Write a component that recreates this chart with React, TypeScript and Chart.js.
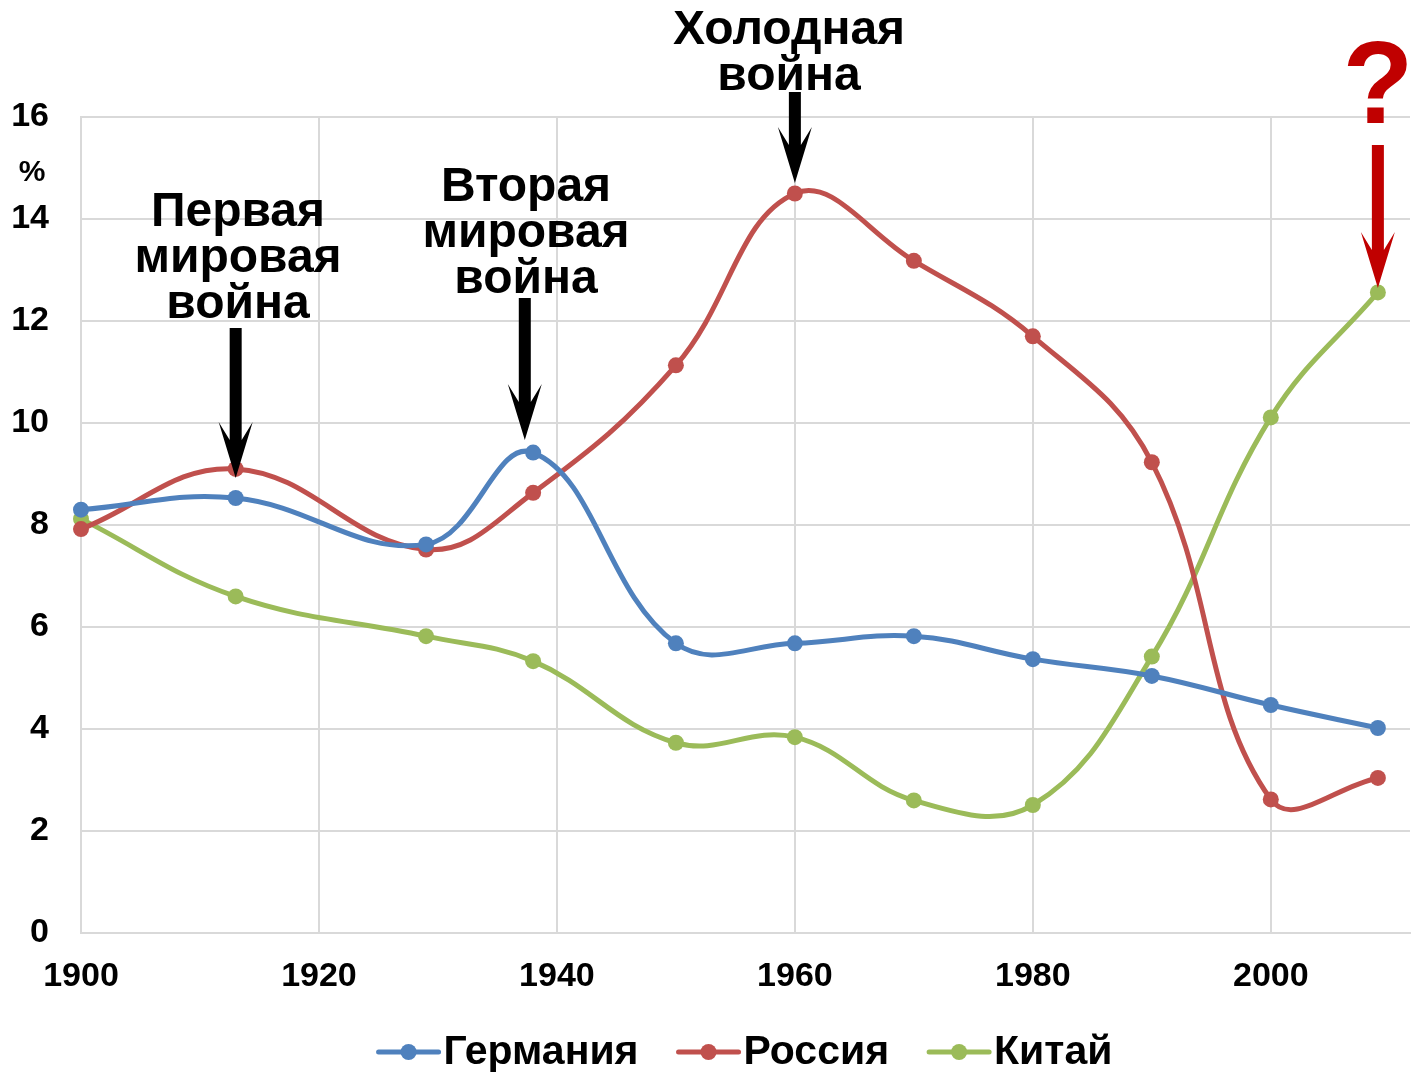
import React, { useEffect, useRef } from "react";
import { Chart, registerables } from "chart.js";

Chart.register(...registerables);

const years = [1900, 1913, 1929, 1938, 1950, 1960, 1970, 1980, 1990, 2000, 2009];
const germany = [8.3, 8.53, 7.62, 9.42, 5.68, 5.68, 5.82, 5.37, 5.04, 4.47, 4.02];
const russia = [7.92, 9.1, 7.52, 8.63, 11.13, 14.5, 13.18, 11.7, 9.23, 2.62, 3.04];
const china = [8.12, 6.6, 5.82, 5.33, 3.73, 3.84, 2.6, 2.51, 5.42, 10.11, 12.56];
const seriesNames = ["Германия", "Россия", "Китай"];
const seriesColors = ["#4f81bd", "#c0504d", "#9bbb59"];
const yTicks = [0, 2, 4, 6, 8, 10, 12, 14, 16];
const xTicks = [1900, 1920, 1940, 1960, 1980, 2000];

const FONT = '"Liberation Sans", Arial, sans-serif';

function drawArrow(ctx: CanvasRenderingContext2D, x: number, top: number, tip: number, color: string) {
  const hw = 6;
  const wing = 17;
  const wingY = tip - 56;
  const jointY = tip - 38;
  ctx.save();
  ctx.fillStyle = color;
  ctx.beginPath();
  ctx.moveTo(x - hw, top);
  ctx.lineTo(x + hw, top);
  ctx.lineTo(x + hw, jointY);
  ctx.lineTo(x + wing, wingY);
  ctx.lineTo(x, tip);
  ctx.lineTo(x - wing, wingY);
  ctx.lineTo(x - hw, jointY);
  ctx.closePath();
  ctx.fill();
  ctx.restore();
}

const overlayPlugin = {
  id: "overlay",
  afterDraw(chart: any) {
    const ctx: CanvasRenderingContext2D = chart.ctx;
    const xs = chart.scales.x;
    const ca = chart.chartArea;

    ctx.save();
    ctx.fillStyle = "#000";
    ctx.font = `bold 30px ${FONT}`;
    ctx.textAlign = "center";
    ctx.textBaseline = "middle";
    ctx.fillText("%", 32, 173);

    ctx.font = `bold 48px ${FONT}`;
    const lines1 = ["Первая", "мировая", "война"];
    lines1.forEach((t, i) => ctx.fillText(t, 238, 213 + i * 46));
    const lines2 = ["Вторая", "мировая", "война"];
    lines2.forEach((t, i) => ctx.fillText(t, 526, 188 + i * 46));
    const lines3 = ["Холодная", "война"];
    lines3.forEach((t, i) => ctx.fillText(t, 789, 31 + i * 46));

    drawArrow(ctx, xs.getPixelForValue(1913), 328, 478, "#000");
    drawArrow(ctx, xs.getPixelForValue(1937.3), 298, 440, "#000");
    drawArrow(ctx, xs.getPixelForValue(1960), 92, 183, "#000");
    drawArrow(ctx, xs.getPixelForValue(2009), 145, 288, "#c00000");

    ctx.fillStyle = "#c00000";
    ctx.font = `bold 116px ${FONT}`;
    ctx.fillText("?", xs.getPixelForValue(2009), 91);

    ctx.font = `bold 41px ${FONT}`;
    ctx.textAlign = "left";
    const lineLen = 60;
    const gapLT = 5;
    const gapItems = 40;
    const widths = seriesNames.map((n) => lineLen + gapLT + ctx.measureText(n).width);
    const total = widths.reduce((a, b) => a + b, 0) + gapItems * (seriesNames.length - 1);
    let x = (ca.left + ca.right) / 2 - total / 2;
    const ly = 1052;
    seriesNames.forEach((n, i) => {
      ctx.strokeStyle = seriesColors[i];
      ctx.lineWidth = 5;
      ctx.lineCap = "round";
      ctx.beginPath();
      ctx.moveTo(x, ly);
      ctx.lineTo(x + lineLen, ly);
      ctx.stroke();
      ctx.fillStyle = seriesColors[i];
      ctx.beginPath();
      ctx.arc(x + lineLen / 2, ly, 8, 0, Math.PI * 2);
      ctx.fill();
      ctx.fillStyle = "#000";
      ctx.fillText(n, x + lineLen + gapLT, ly + 1);
      x += widths[i] + gapItems;
    });
    ctx.restore();
  },
};

export default function App() {
  const ref = useRef<HTMLCanvasElement | null>(null);
  useEffect(() => {
    if (!ref.current) return;
    const mk = (vals: number[]) => years.map((y, i) => ({ x: y, y: vals[i] }));
    const all = [germany, russia, china];
    const chart = new Chart(ref.current, {
      type: "line",
      data: {
        datasets: all.map((vals, i) => ({
          label: seriesNames[i],
          data: mk(vals),
          borderColor: seriesColors[i],
          backgroundColor: seriesColors[i],
          borderWidth: 5,
          pointRadius: 8,
          pointBorderWidth: 0,
          pointBackgroundColor: seriesColors[i],
          tension: 0.4,
          fill: false,
          clip: false,
        })),
      },
      options: {
        animation: false,
        responsive: false,
        maintainAspectRatio: false,
        layout: { autoPadding: false, padding: { top: 117, right: 2, bottom: 0, left: 0 } },
        plugins: { legend: { display: false }, tooltip: { enabled: false } },
        scales: {
          x: {
            type: "linear",
            min: 1900,
            max: 2011.7,
            afterBuildTicks: (s: any) => {
              s.ticks = xTicks.map((v) => ({ value: v }));
            },
            afterFit: (s: any) => {
              s.height = 139;
              s.paddingLeft = 0;
              s.paddingRight = 0;
            },
            grid: { color: "#d9d9d9", lineWidth: 2, drawTicks: false },
            border: { color: "#d9d9d9", width: 2 },
            ticks: {
              padding: 23,
              color: "#000",
              font: { family: FONT, size: 34, weight: "bold" },
              maxRotation: 0,
              callback: (v: any) => String(v),
            },
          },
          y: {
            min: 0,
            max: 16,
            afterBuildTicks: (s: any) => {
              s.ticks = yTicks.map((v) => ({ value: v }));
            },
            afterFit: (s: any) => {
              s.width = 81;
              s.paddingTop = 0;
              s.paddingBottom = 0;
            },
            grid: { color: "#d9d9d9", lineWidth: 2, drawTicks: false },
            border: { color: "#d9d9d9", width: 2 },
            ticks: {
              padding: 32,
              color: "#000",
              font: { family: FONT, size: 34, weight: "bold" },
            },
          },
        },
      },
      plugins: [overlayPlugin],
    } as any);
    return () => chart.destroy();
  }, []);
  return (
    <div style={{ position: "fixed", left: 0, top: 0, width: 1412, height: 1072, background: "#fff" }}>
      <canvas ref={ref} width={1412} height={1072} style={{ display: "block" }} />
    </div>
  );
}
